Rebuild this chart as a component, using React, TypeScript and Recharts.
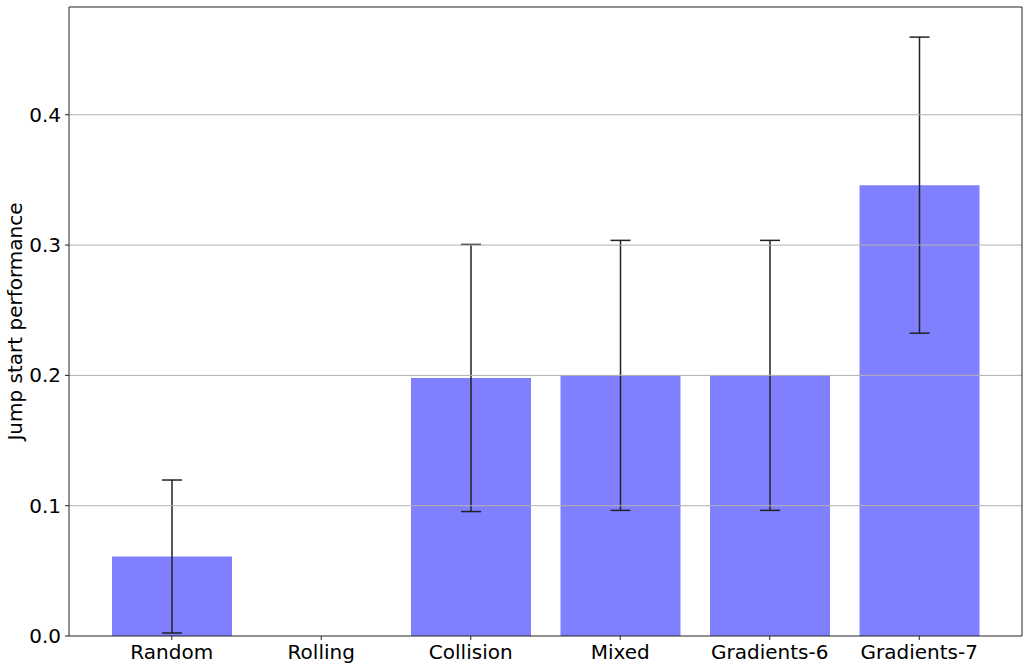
import { ComposedChart, Bar, Line, XAxis, YAxis, ErrorBar, ReferenceLine } from 'recharts'

const categories = ['Random', 'Rolling', 'Collision', 'Mixed', 'Gradients-6', 'Gradients-7']
const performance = [0.061, 0, 0.198, 0.2, 0.2, 0.346]
const errors = [0.0587, 0, 0.1025, 0.1036, 0.1036, 0.1136]
const yTicks = [0, 0.1, 0.2, 0.3, 0.4]
const gridLines = [0.1, 0.2, 0.3, 0.4]
const yDomain = [0, 0.4827]

const data = categories.map((name, i) => ({
  name,
  value: performance[i],
  err: errors[i],
}))

const font = 'DejaVu Sans, sans-serif'
const tickStyle = { fill: '#000', fontSize: 20, fontFamily: font }
const frame = { stroke: '#222', strokeWidth: 1 }

export default function App() {
  return (
    <div style={{ position: 'absolute', left: 0, top: 0, background: '#fff' }}>
      <ComposedChart
        width={1029}
        height={669}
        data={data}
        margin={{ top: 6, right: 6, bottom: 0, left: 0 }}
      >
        <XAxis
          dataKey="name"
          xAxisId="main"
          height={33}
          padding={{ left: 28, right: 28 }}
          tick={tickStyle}
          fontSize={20}
          tickSize={4}
          tickMargin={5}
          axisLine={frame}
          tickLine={{ stroke: '#222' }}
          interval={0}
        />
        <XAxis
          dataKey="name"
          xAxisId="top"
          orientation="top"
          height={1}
          padding={{ left: 28, right: 28 }}
          tick={false}
          tickLine={false}
          axisLine={frame}
        />
        <YAxis
          yAxisId="main"
          width={69}
          domain={yDomain}
          ticks={yTicks}
          tickFormatter={(v: number) => v.toFixed(1)}
          tick={tickStyle}
          fontSize={20}
          tickSize={4}
          tickMargin={4}
          axisLine={frame}
          tickLine={{ stroke: '#222' }}
          allowDataOverflow
          label={{
            value: 'Jump start performance',
            content: (props: any) => {
              const vb = props.viewBox
              const x = vb.x + 15
              const y = vb.y + vb.height / 2
              return (
                <text
                  x={x}
                  y={y}
                  transform={`rotate(-90, ${x}, ${y})`}
                  textAnchor="middle"
                  dominantBaseline="central"
                  fontSize={20}
                  fontFamily={font}
                  fill="#000"
                >
                  Jump start performance
                </text>
              )
            },
          }}
        />
        <YAxis
          yAxisId="right"
          orientation="right"
          width={1}
          domain={yDomain}
          allowDataOverflow
          tick={false}
          tickLine={false}
          axisLine={frame}
        />
        <Bar
          dataKey="value"
          xAxisId="main"
          yAxisId="main"
          fill="#8080ff"
          barSize={120}
          isAnimationActive={false}
        >
          <ErrorBar dataKey="err" width={10} stroke="#222" strokeWidth={1.5} direction="y" />
        </Bar>
        <Line
          dataKey="value"
          xAxisId="top"
          yAxisId="right"
          stroke="none"
          dot={false}
          activeDot={false}
          legendType="none"
          isAnimationActive={false}
        />
        {gridLines.map(g => (
          <ReferenceLine
            key={g}
            y={g}
            xAxisId="main"
            yAxisId="main"
            stroke="#b0b0b0"
            strokeWidth={1}
            ifOverflow="hidden"
          />
        ))}
      </ComposedChart>
    </div>
  )
}
